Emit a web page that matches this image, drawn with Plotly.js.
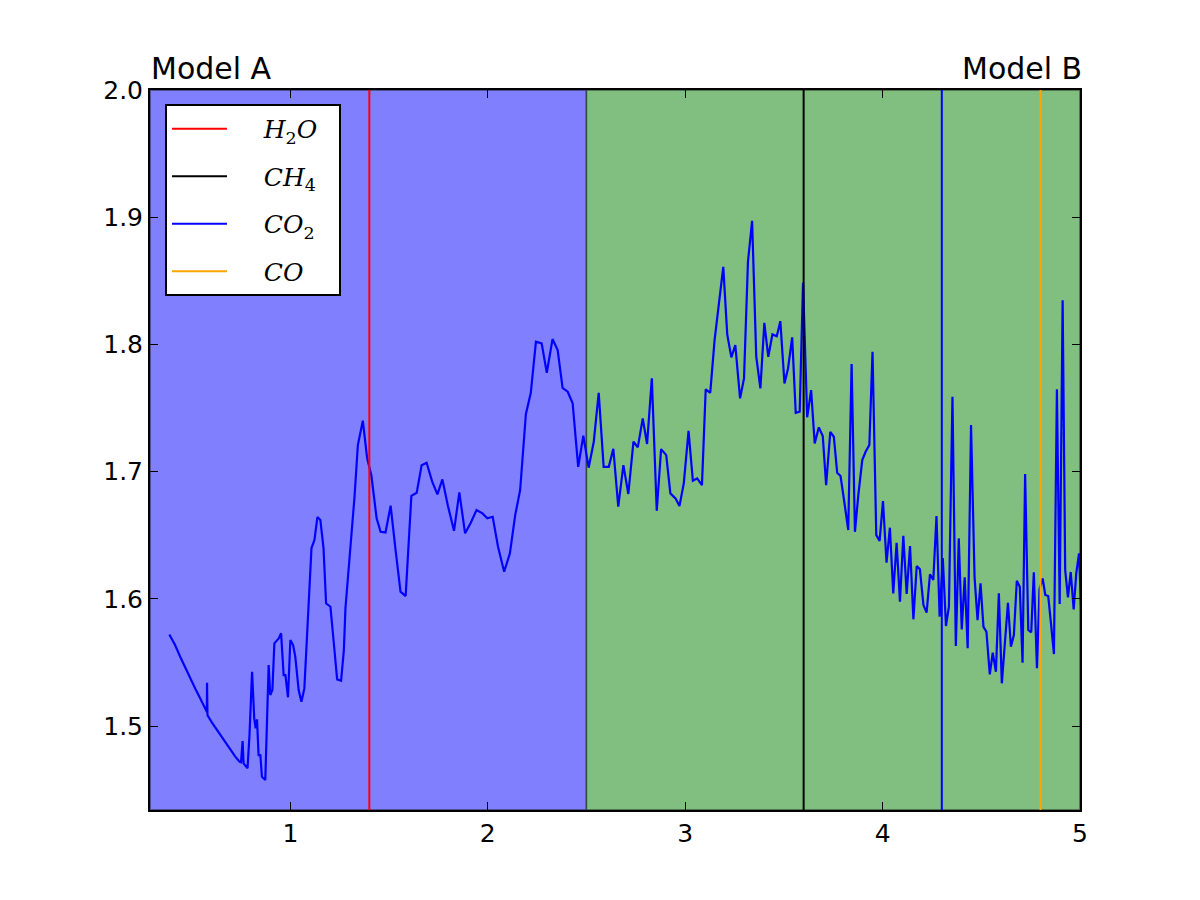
<!DOCTYPE html>
<html>
<head>
<meta charset="utf-8">
<script src="https://cdn.plot.ly/plotly-3.0.1.min.js"></script>
<style>
  html, body { margin: 0; padding: 0; background: #ffffff; }
  #chart { width: 1200px; height: 900px; }
</style>
</head>
<body>
<div id="chart"></div>
<script>
// Spectrum: wavelength (micron) and transit depth
const wavelength = [0.387,0.416,0.442,0.467,0.492,0.518,0.543,0.577,0.578,0.580,0.604,0.628,0.653,0.679,0.700,0.721,0.743,0.750,0.758,0.763,0.783,0.793,0.806,0.817,0.824,0.831,0.839,0.848,0.856,0.873,0.890,0.898,0.909,0.919,0.941,0.953,0.966,0.975,0.988,1.000,1.014,1.025,1.042,1.056,1.071,1.093,1.107,1.122,1.137,1.152,1.168,1.181,1.203,1.221,1.237,1.257,1.271,1.279,1.305,1.325,1.342,1.367,1.389,1.410,1.437,1.457,1.482,1.508,1.533,1.558,1.584,1.613,1.640,1.665,1.690,1.719,1.745,1.770,1.798,1.829,1.856,1.885,1.914,1.943,1.973,1.998,2.025,2.052,2.083,2.112,2.139,2.164,2.193,2.218,2.244,2.273,2.299,2.328,2.354,2.379,2.405,2.430,2.458,2.484,2.511,2.537,2.562,2.587,2.613,2.636,2.661,2.687,2.712,2.738,2.760,2.785,2.807,2.831,2.856,2.878,2.904,2.925,2.951,2.971,2.993,3.017,3.039,3.061,3.085,3.104,3.127,3.149,3.171,3.193,3.213,3.234,3.254,3.278,3.298,3.318,3.339,3.360,3.381,3.401,3.421,3.442,3.464,3.482,3.503,3.521,3.542,3.560,3.580,3.597,3.618,3.638,3.656,3.677,3.697,3.714,3.735,3.753,3.770,3.787,3.806,3.826,3.843,3.860,3.877,3.897,3.914,3.933,3.949,3.968,3.985,4.002,4.020,4.037,4.054,4.071,4.088,4.105,4.122,4.139,4.156,4.173,4.189,4.207,4.223,4.240,4.257,4.273,4.289,4.305,4.321,4.336,4.354,4.371,4.386,4.401,4.416,4.431,4.448,4.466,4.481,4.496,4.511,4.526,4.543,4.558,4.574,4.589,4.604,4.619,4.635,4.650,4.665,4.680,4.695,4.709,4.722,4.738,4.753,4.766,4.782,4.795,4.811,4.824,4.839,4.853,4.868,4.883,4.897,4.912,4.925,4.939,4.953,4.968,4.981,4.995,5.005];

const transitDepth = [1.572,1.5637,1.5545,1.546,1.5375,1.5295,1.5218,1.5112,1.534,1.5086,1.5024,1.4969,1.4906,1.4851,1.480,1.4759,1.4719,1.4715,1.4882,1.4707,1.4668,1.4929,1.5427,1.5061,1.4982,1.5053,1.4772,1.4772,1.4601,1.4576,1.548,1.5244,1.5283,1.565,1.5689,1.5729,1.5401,1.5401,1.5226,1.5676,1.5637,1.5545,1.5283,1.5191,1.5296,1.599,1.6399,1.6462,1.6643,1.6619,1.6399,1.5964,1.5938,1.5637,1.5367,1.5356,1.5597,1.5925,1.6409,1.6802,1.7209,1.74,1.7104,1.6973,1.6633,1.6527,1.6522,1.6732,1.6383,1.6056,1.6022,1.681,1.6834,1.7051,1.707,1.692,1.6821,1.6939,1.6732,1.6535,1.6837,1.6515,1.6598,1.6698,1.6672,1.6633,1.6645,1.6409,1.6213,1.6357,1.6658,1.6855,1.7452,1.762,1.8021,1.8008,1.7777,1.8042,1.7955,1.7659,1.7628,1.7537,1.7038,1.7282,1.7031,1.7235,1.762,1.7038,1.7038,1.718,1.6724,1.7051,1.6824,1.7235,1.7191,1.7419,1.7217,1.7733,1.6692,1.7177,1.713,1.6829,1.679,1.6729,1.6908,1.7321,1.6928,1.6947,1.6894,1.7647,1.762,1.8034,1.8322,1.861,1.8079,1.7898,1.7995,1.7576,1.7733,1.865,1.8972,1.7903,1.7654,1.817,1.7903,1.8079,1.8065,1.8183,1.7693,1.7811,1.8055,1.7463,1.7471,1.8484,1.7427,1.7641,1.7222,1.7348,1.7279,1.6894,1.7313,1.7274,1.6991,1.6965,1.6763,1.6541,1.7845,1.6527,1.6816,1.7091,1.7156,1.7209,1.7942,1.6501,1.6456,1.6769,1.6284,1.6559,1.6043,1.6441,1.5977,1.6496,1.6038,1.6415,1.5839,1.6258,1.6232,1.5951,1.5891,1.6192,1.6148,1.6651,1.5859,1.632,1.5786,1.5938,1.7588,1.5629,1.6475,1.576,1.6169,1.5611,1.7366,1.6169,1.5833,1.6122,1.578,1.5741,1.5406,1.5576,1.5427,1.6043,1.5336,1.5623,1.5969,1.5623,1.5715,1.6142,1.6095,1.5498,1.6981,1.5755,1.5737,1.6208,1.5454,1.6075,1.6161,1.603,1.6022,1.5807,1.5566,1.7647,1.5959,1.8348,1.6226,1.6012,1.6211,1.5917,1.62,1.6357,1.595];

// Molecular band positions (micron) and their legend labels
const moleculeLabels = ['<i>H</i><sub>2</sub><i>O</i>', '<i>CH</i><sub>4</sub>', '<i>CO</i><sub>2</sub>', '<i>CO</i>'];
const moleculePositions = [1.4, 3.6, 4.3, 4.8];

// Wavelength where the two model regions meet
const modelSplit = 2.5;
const modelLabels = ['Model A', 'Model B'];

// Axis extents and tick values
const xRange = [0.289, 5.0];
const yRange = [1.434, 2.0];
const xTicks = [1, 2, 3, 4, 5];
const yTicks = [1.5, 1.6, 1.7, 1.8, 1.9, 2.0];

if (wavelength.length !== transitDepth.length) {
  throw new Error('wavelength/transitDepth length mismatch: ' + wavelength.length + ' vs ' + transitDepth.length);
}

const moleculeColors = ['#ff0000', '#000000', '#0000ff', '#ffa500'];

const traces = [{
  type: 'scatter',
  mode: 'lines',
  x: wavelength,
  y: transitDepth,
  line: { color: '#0000ff', width: 2.2 },
  showlegend: false,
  hoverinfo: 'x+y'
}];

// Non-breaking spaces set the gap between sample line and label,
// and pad the legend box on the right
const legendPad = '&nbsp;&nbsp;&nbsp;&nbsp;';
moleculePositions.forEach((pos, i) => {
  traces.push({
    type: 'scatter',
    mode: 'lines',
    x: [pos, pos],
    y: yRange,
    name: legendPad + moleculeLabels[i] + '&nbsp;&nbsp;',
    legendgroup: 'g' + i,
    line: { color: moleculeColors[i], width: 2 },
    hoverinfo: 'name'
  });
});

const axisFont = { family: 'DejaVu Sans, sans-serif', size: 25, color: '#000000' };

const layout = {
  width: 1200,
  height: 900,
  margin: { l: 150, r: 120, t: 90, b: 90, pad: 0 },
  paper_bgcolor: '#ffffff',
  plot_bgcolor: '#ffffff',
  showlegend: true,
  legend: {
    x: 0.0161, y: 0.9806, xanchor: 'left', yanchor: 'top',
    bgcolor: '#ffffff', bordercolor: '#000000', borderwidth: 2,
    font: { family: 'DejaVu Serif, serif', size: 25, color: '#000000' },
    tracegroupgap: 12,
    itemwidth: 55
  },
  xaxis: {
    range: xRange,
    tickvals: xTicks,
    ticktext: xTicks.map(String),
    ticks: 'inside', ticklen: 8, tickwidth: 1, tickcolor: '#000000',
    showline: true, linecolor: '#000000', linewidth: 2, mirror: 'allticks',
    showgrid: false, zeroline: false,
    tickfont: axisFont
  },
  yaxis: {
    range: yRange,
    tickvals: yTicks,
    ticktext: yTicks.map(v => v.toFixed(1)),
    ticks: 'inside', ticklen: 8, tickwidth: 1, tickcolor: '#000000',
    showline: true, linecolor: '#000000', linewidth: 2, mirror: 'allticks',
    showgrid: false, zeroline: false,
    tickfont: axisFont
  },
  shapes: [
    {
      type: 'rect', xref: 'x', yref: 'paper', layer: 'below',
      x0: xRange[0], x1: modelSplit, y0: 0, y1: 1,
      fillcolor: '#8080ff', line: { color: 'rgba(0,0,0,0.5)', width: 1.5 }
    },
    {
      type: 'rect', xref: 'x', yref: 'paper', layer: 'below',
      x0: modelSplit, x1: xRange[1], y0: 0, y1: 1,
      fillcolor: '#80bf80', line: { color: 'rgba(0,0,0,0.5)', width: 1.5 }
    }
  ],
  annotations: [
    {
      text: modelLabels[0], xref: 'paper', yref: 'paper', x: 0, y: 1,
      xanchor: 'left', yanchor: 'bottom', showarrow: false, yshift: 2, xshift: -1,
      font: { family: 'DejaVu Sans, sans-serif', size: 30, color: '#000000' }
    },
    {
      text: modelLabels[1], xref: 'paper', yref: 'paper', x: 1, y: 1,
      xanchor: 'right', yanchor: 'bottom', showarrow: false, yshift: 2, xshift: 4,
      font: { family: 'DejaVu Sans, sans-serif', size: 30, color: '#000000' }
    }
  ]
};

Plotly.newPlot('chart', traces, layout, { staticPlot: true, displayModeBar: false });
</script>
</body>
</html>
